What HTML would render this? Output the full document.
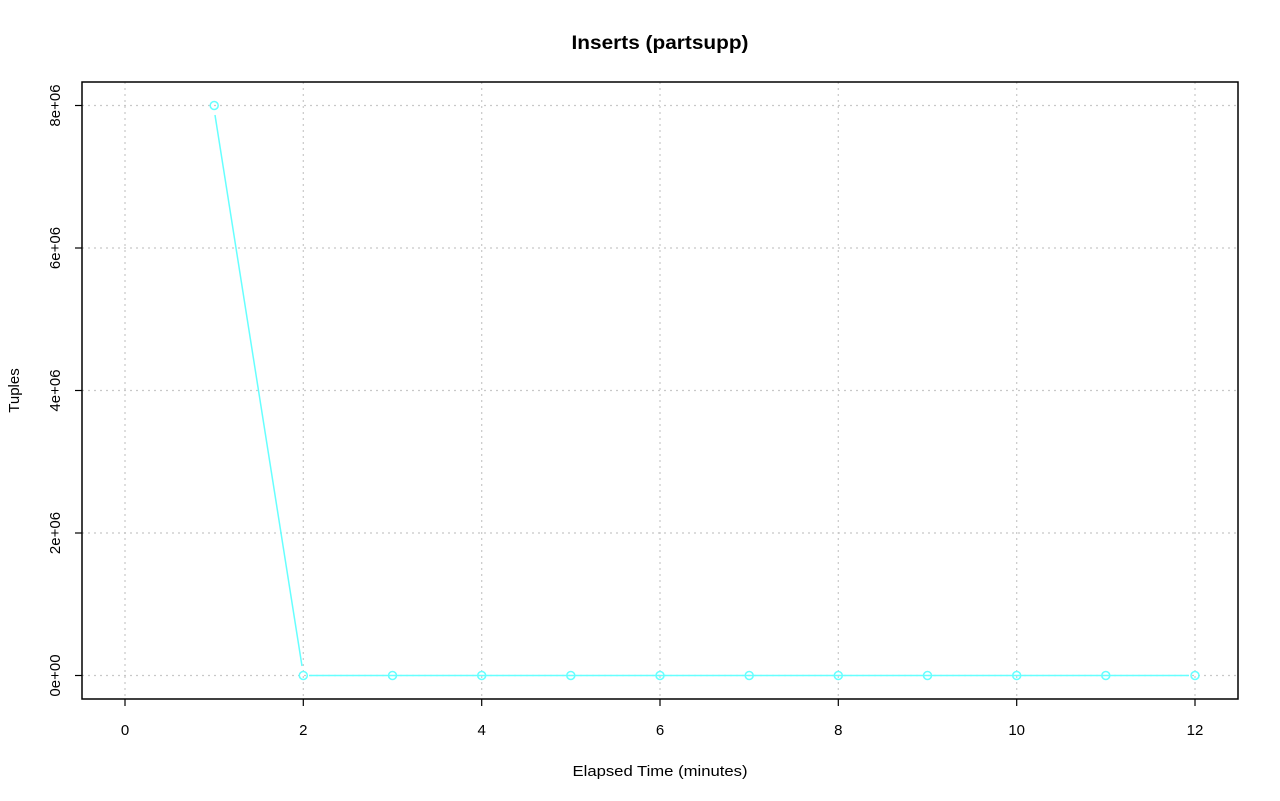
<!DOCTYPE html>
<html><head><style>body{margin:0;background:#fff}svg{display:block}text{font-family:"Liberation Sans",sans-serif;fill:#000}</style></head><body>
<svg width="1280" height="801" viewBox="0 0 1280 801" xmlns="http://www.w3.org/2000/svg">
<rect width="1280" height="801" fill="#fff"/>
<text x="660" y="49" text-anchor="middle" font-size="19" font-weight="bold" textLength="177" lengthAdjust="spacingAndGlyphs">Inserts (partsupp)</text>
<g stroke="#c8c8c8" stroke-width="1.2" stroke-dasharray="2,4">
<line x1="125" y1="82" x2="125" y2="699"/><line x1="303.3" y1="82" x2="303.3" y2="699"/><line x1="481.7" y1="82" x2="481.7" y2="699"/><line x1="660" y1="82" x2="660" y2="699"/><line x1="838.3" y1="82" x2="838.3" y2="699"/><line x1="1016.7" y1="82" x2="1016.7" y2="699"/><line x1="1195" y1="82" x2="1195" y2="699"/>
<line x1="82" y1="105.5" x2="1238" y2="105.5"/><line x1="82" y1="248" x2="1238" y2="248"/><line x1="82" y1="390.5" x2="1238" y2="390.5"/><line x1="82" y1="533" x2="1238" y2="533"/><line x1="82" y1="675.5" x2="1238" y2="675.5"/>
</g>
<rect x="82" y="82" width="1156" height="617" fill="none" stroke="#000" stroke-width="1.5"/>
<g stroke="#000" stroke-width="1.2">
<line x1="125" y1="699" x2="125" y2="706"/><line x1="303.3" y1="699" x2="303.3" y2="706"/><line x1="481.7" y1="699" x2="481.7" y2="706"/><line x1="660" y1="699" x2="660" y2="706"/><line x1="838.3" y1="699" x2="838.3" y2="706"/><line x1="1016.7" y1="699" x2="1016.7" y2="706"/><line x1="1195" y1="699" x2="1195" y2="706"/>
<line x1="75" y1="105.5" x2="82" y2="105.5"/><line x1="75" y1="248" x2="82" y2="248"/><line x1="75" y1="390.5" x2="82" y2="390.5"/><line x1="75" y1="533" x2="82" y2="533"/><line x1="75" y1="675.5" x2="82" y2="675.5"/>
</g>
<g font-size="15" text-anchor="middle">
<text x="125" y="735">0</text><text x="303.3" y="735">2</text><text x="481.7" y="735">4</text><text x="660" y="735">6</text><text x="838.3" y="735">8</text><text x="1016.7" y="735">10</text><text x="1195" y="735">12</text>
<text transform="translate(60,105.5) rotate(-90)">8e+06</text>
<text transform="translate(60,248) rotate(-90)">6e+06</text>
<text transform="translate(60,390.5) rotate(-90)">4e+06</text>
<text transform="translate(60,533) rotate(-90)">2e+06</text>
<text transform="translate(60,675.5) rotate(-90)">0e+00</text>
<text x="660" y="776" textLength="175" lengthAdjust="spacingAndGlyphs">Elapsed Time (minutes)</text>
<text transform="translate(19,390.5) rotate(-90)">Tuples</text>
</g>
<g stroke="#6ff" stroke-width="1.5" fill="none">
<line x1="215" y1="115" x2="302" y2="666"/>
<line x1="309" y1="675.5" x2="1189" y2="675.5"/>
<circle cx="214.2" cy="105.5" r="4"/><circle cx="303.3" cy="675.5" r="4"/><circle cx="392.5" cy="675.5" r="4"/><circle cx="481.7" cy="675.5" r="4"/><circle cx="570.8" cy="675.5" r="4"/><circle cx="660" cy="675.5" r="4"/><circle cx="749.2" cy="675.5" r="4"/><circle cx="838.3" cy="675.5" r="4"/><circle cx="927.5" cy="675.5" r="4"/><circle cx="1016.7" cy="675.5" r="4"/><circle cx="1105.8" cy="675.5" r="4"/><circle cx="1195" cy="675.5" r="4"/>
</g>
</svg>
</body></html>
